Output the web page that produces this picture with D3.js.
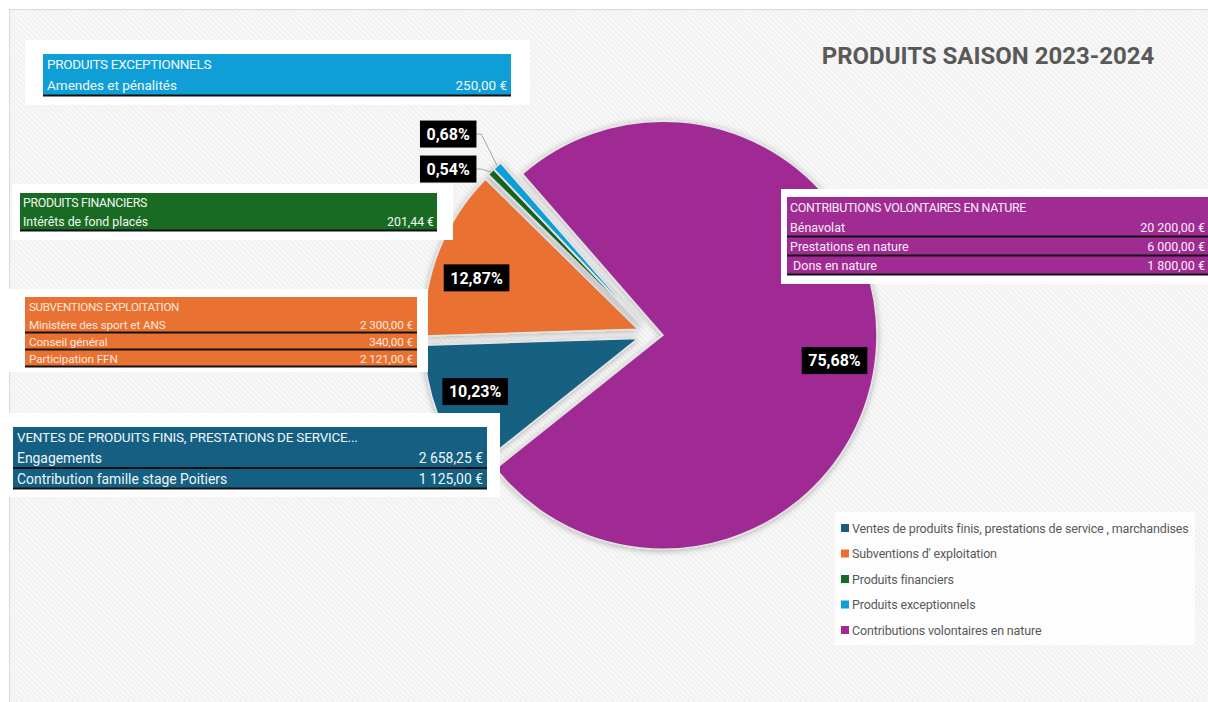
<!DOCTYPE html>
<html><head><meta charset="utf-8">
<script src="https://cdn.jsdelivr.net/npm/d3@7"></script>
<style>
html,body{margin:0;padding:0;background:#fff;}
svg{display:block;font-family:Roboto,"Noto Sans",sans-serif;}
</style></head>
<body>
<svg id="chart" width="1208" height="702"></svg>
<script>
// ---------- DATA ----------
const title = "PRODUITS SAISON 2023-2024";
const categories = [
  "Ventes de produits finis, prestations de service , marchandises",
  "Subventions d' exploitation",
  "Produits financiers",
  "Produits exceptionnels",
  "Contributions volontaires en nature"
];
const colors = ["#156082", "#E97132", "#196B24", "#0F9ED5", "#A02B93"];

const ventesTitle = "VENTES DE PRODUITS FINIS, PRESTATIONS DE SERVICE...";
const ventesItems = ["Engagements", "Contribution famille stage Poitiers"];
const ventesAmounts = [2658.25, 1125.00];

const subventionsTitle = "SUBVENTIONS EXPLOITATION";
const subventionsItems = ["Ministère des sport et ANS", "Conseil général", "Participation FFN"];
const subventionsAmounts = [2300.00, 340.00, 2121.00];

const financiersTitle = "PRODUITS FINANCIERS";
const financiersItems = ["Intérêts de fond placés"];
const financiersAmounts = [201.44];

const exceptionnelsTitle = "PRODUITS EXCEPTIONNELS";
const exceptionnelsItems = ["Amendes et pénalités"];
const exceptionnelsAmounts = [250.00];

const contributionsTitle = "CONTRIBUTIONS VOLONTAIRES EN NATURE";
const contributionsItems = ["Bénavolat", "Prestations en nature", "\u00a0Dons en nature"];
const contributionsAmounts = [20200.00, 6000.00, 1800.00];

const categoryValues = [
  d3.sum(ventesAmounts), d3.sum(subventionsAmounts), d3.sum(financiersAmounts),
  d3.sum(exceptionnelsAmounts), d3.sum(contributionsAmounts)
];

// ---------- SETUP ----------
const svg = d3.select("#chart");
const W = 1208, H = 702;
const defs = svg.append("defs");

const pat = defs.append("pattern").attr("id","stripes")
  .attr("patternUnits","userSpaceOnUse").attr("width",3.6).attr("height",3.6)
  .attr("patternTransform","rotate(-45)");
pat.append("rect").attr("width",3.6).attr("height",3.6).attr("fill","#f1f1f1");
pat.append("line").attr("x1",0.8).attr("x2",0.8).attr("y1",0).attr("y2",3.6)
  .attr("stroke","#fbfbfb").attr("stroke-width",1.4);

const sh = defs.append("filter").attr("id","shadow")
  .attr("x","-20%").attr("y","-20%").attr("width","140%").attr("height","140%");
sh.append("feDropShadow").attr("dx",0).attr("dy",1).attr("stdDeviation",3)
  .attr("flood-color","#000").attr("flood-opacity",0.3);

svg.append("rect").attr("x",9.5).attr("y",9.5).attr("width",W).attr("height",H)
  .attr("fill","url(#stripes)").attr("stroke","#d9d9d9");

// ---------- TITLE ----------
svg.append("text").attr("x",988).attr("y",64).attr("text-anchor","middle")
  .attr("font-size",24).attr("font-weight",700).attr("fill","#595959").text(title);

// ---------- PIE ----------
const cx = 650, cy = 334, R = 214, explode = 13;
const startDeg = 231.4;
const pie = d3.pie().sort(null)
  .startAngle(startDeg*Math.PI/180).endAngle(startDeg*Math.PI/180 + 2*Math.PI);
const arcs = pie(categoryValues);
const arc = d3.arc().innerRadius(0).outerRadius(R);
const total = d3.sum(categoryValues);
const pctFmt = v => d3.format(".2f")(v*100).replace(".", ",") + "%";

const pieG = svg.append("g").attr("transform",`translate(${cx},${cy})`);
function dirOf(a){ const m=(a.startAngle+a.endAngle)/2; return [Math.sin(m), -Math.cos(m)]; }

pieG.selectAll("path.slice").data(arcs).join("path").attr("class","slice")
  .attr("transform", d => { const [dx,dy]=dirOf(d); return `translate(${dx*explode},${dy*explode})`; })
  .attr("d", arc).attr("fill",(d,i)=>colors[i])
  .attr("stroke","#e4e4e4").attr("stroke-width",1.5)
  .attr("filter","url(#shadow)");

// label helper
function pctLabel(g, x, y, txt, anchor){
  const t = g.append("text").attr("x",x).attr("y",y).attr("dy","0.36em")
    .attr("text-anchor",anchor||"middle").attr("font-size",16).attr("font-weight",700)
    .attr("fill","#fff").text(txt);
  const b = t.node().getBBox();
  g.insert("rect", () => t.node()).attr("x",b.x-6.5).attr("y",y-13.5)
    .attr("width",b.width+13).attr("height",27).attr("fill","#000");
}
const labG = svg.append("g").attr("transform",`translate(${cx},${cy})`);
// layout nudges (px) for inside labels, matching the best-fit placement
const labelNudge = [[-2,-6],[-2,11],[0,0],[0,0],[1,10]];
arcs.forEach((d,i) => {
  const frac = d.value/total;
  if (frac > 0.05) {
    const [dx,dy] = dirOf(d);
    const r = explode + R*0.8;
    pctLabel(labG, dx*r + labelNudge[i][0], dy*r + labelNudge[i][1], pctFmt(frac));
  }
});
// small slices: outside labels with leader lines
const small = arcs.map((d,i)=>({d,i})).filter(o => o.d.value/total <= 0.05)
  .sort((a,b)=>b.i-a.i);
const outerPts = small.map(o => { const [dx,dy]=dirOf(o.d); return [dx*(explode+R), dy*(explode+R)]; });
const topOuter = outerPts[0];
small.forEach((o,k) => {
  const [ox,oy] = outerPts[k];
  const by = topOuter[1] - 32 + k*35;
  const bx = topOuter[0] - 21; // right edge of box
  labG.append("polyline").attr("points",`${bx},${by} ${bx+5},${by} ${ox},${oy}`)
    .attr("fill","none").attr("stroke","#a6a6a6").attr("stroke-width",1);
  pctLabel(labG, bx-6.5, by, pctFmt(o.d.value/total), "end");
});

// ---------- TABLES ----------
const money = d3.formatLocale({decimal:",", thousands:"\u00a0", grouping:[3], currency:["",""]}).format(",.2f");
function drawTable(cfg){
  const g = svg.append("g");
  g.append("rect").attr("x",cfg.box[0]).attr("y",cfg.box[1]).attr("width",cfg.box[2]).attr("height",cfg.box[3]).attr("fill","#fff");
  const [bx,by,bw] = cfg.band;
  const bh = cfg.headH + cfg.rowH*cfg.items.length;
  g.append("rect").attr("x",bx).attr("y",by).attr("width",bw).attr("height",bh).attr("fill",cfg.color);
  g.append("text").attr("x",bx+cfg.pad).attr("y",by+cfg.headH/2).attr("dy","0.36em")
    .attr("font-size",cfg.headFs).attr("letter-spacing",cfg.headLs).attr("fill",cfg.textColor).text(cfg.title);
  cfg.items.forEach((it,i) => {
    const y0 = by + cfg.headH + i*cfg.rowH;
    g.append("text").attr("x",bx+cfg.pad).attr("y",y0+cfg.rowH/2).attr("dy","0.36em")
      .attr("font-size",cfg.fs).attr("fill",cfg.textColor).attr("letter-spacing",cfg.ls).text(it);
    g.append("text").attr("x",bx+bw-cfg.pad).attr("y",y0+cfg.rowH/2).attr("dy","0.36em")
      .attr("text-anchor","end").attr("font-size",cfg.fs).attr("fill",cfg.textColor).attr("letter-spacing",cfg.ls)
      .text(money(cfg.amounts[i]) + "\u00a0€");
    g.append("line").attr("x1",bx).attr("x2",bx+bw).attr("y1",y0+cfg.rowH-0.5).attr("y2",y0+cfg.rowH-0.5)
      .attr("stroke","#111").attr("stroke-width",2);
  });
}
drawTable({title:exceptionnelsTitle, items:exceptionnelsItems, amounts:exceptionnelsAmounts, color:colors[3],
  box:[25,40,505,65], band:[43,54,468], headH:21, rowH:21, fs:13.5, headFs:13.5, headLs:-0.3, ls:0, pad:4, textColor:"#f2f9fd"});
drawTable({title:financiersTitle, items:financiersItems, amounts:financiersAmounts, color:colors[2],
  box:[12,184,441,56], band:[20,193,417], headH:19, rowH:19, fs:12.3, headFs:12.3, headLs:-0.3, ls:0, pad:3, textColor:"#f2f8f2"});
drawTable({title:subventionsTitle, items:subventionsItems, amounts:subventionsAmounts, color:colors[1],
  box:[8,289,420,83], band:[25,297,392], headH:19, rowH:17, fs:11.7, headFs:11.6, headLs:-0.3, ls:-0.1, pad:4, textColor:"#fde8dc"});
drawTable({title:ventesTitle, items:ventesItems, amounts:ventesAmounts, color:colors[0],
  box:[8,413,492,84], band:[13,427,474], headH:21, rowH:20.5, fs:13.9, headFs:13.5, headLs:-0.2, ls:0, pad:4, textColor:"#eef5f8"});
drawTable({title:contributionsTitle, items:contributionsItems, amounts:contributionsAmounts, color:colors[4],
  box:[781,189,440,95], band:[787,197,421], headH:21, rowH:19, fs:12.5, headFs:12.4, headLs:-0.3, ls:0, pad:3, textColor:"#fbeef9"});

// ---------- LEGEND ----------
const lg = svg.append("g");
lg.append("rect").attr("x",835).attr("y",512).attr("width",360).attr("height",133).attr("fill","#fdfdfd");
const ly = d3.scalePoint().domain(d3.range(categories.length)).range([528,630]);
categories.forEach((c,i) => {
  lg.append("rect").attr("x",841).attr("y",ly(i)-4).attr("width",8).attr("height",8).attr("fill",colors[i]);
  lg.append("text").attr("x",852).attr("y",ly(i)).attr("dy","0.36em")
    .attr("font-size",12.5).attr("fill","#595959").attr("letter-spacing",-0.15).text(c);
});
</script>
</body></html>
